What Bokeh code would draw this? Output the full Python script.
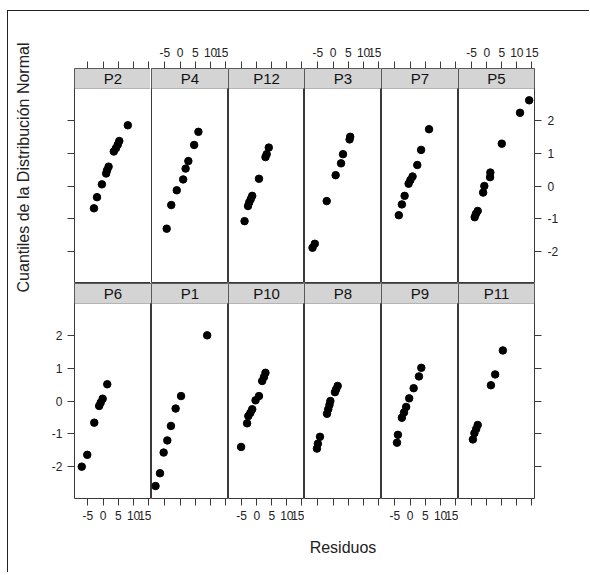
import math
from bokeh.plotting import figure
from bokeh.layouts import gridplot, row
from bokeh.models import Range1d, LinearAxis, FixedTicker, BoxAnnotation, Label
from bokeh.embed import file_html
from bokeh.resources import INLINE

# ---- data ----
top_row = ["P2", "P4", "P12", "P3", "P7", "P5"]
bottom_row = ["P6", "P1", "P10", "P8", "P9", "P11"]

resid_P2 = [-3.0, -2.0, -0.4, 1.0, 1.3, 1.8, 3.5, 4.2, 4.8, 5.3, 8.1]
qn_P2 = [-0.68, -0.34, 0.05, 0.38, 0.48, 0.59, 1.05, 1.15, 1.26, 1.37, 1.85]
resid_P4 = [-4.4, -2.9, -1.1, 1.0, 1.8, 2.7, 4.6, 6.0]
qn_P4 = [-1.30, -0.58, -0.13, 0.20, 0.53, 0.76, 1.25, 1.65]
resid_P12 = [-4.05, -2.9, -2.5, -2.0, -1.5, 0.74, 2.9, 3.3, 4.0]
qn_P12 = [-1.07, -0.61, -0.50, -0.40, -0.30, 0.22, 0.88, 0.97, 1.17]
resid_P3 = [-6.75, -6.0, -2.1, 0.83, 2.6, 3.24, 5.4, 5.6]
qn_P3 = [-1.88, -1.76, -0.46, 0.33, 0.69, 0.97, 1.42, 1.50]
resid_P7 = [-3.7, -2.7, -1.8, -0.5, 0.1, 0.8, 2.35, 3.6, 6.2]
qn_P7 = [-0.89, -0.56, -0.30, 0.07, 0.18, 0.29, 0.64, 1.10, 1.73]
resid_P5 = [-4.0, -3.6, -3.0, -1.2, -0.8, 1.1, 1.2, 5.0, 11.05, 14.1]
qn_P5 = [-0.95, -0.85, -0.76, -0.20, 0.0, 0.27, 0.41, 1.29, 2.23, 2.61]
resid_P6 = [-7.0, -5.2, -2.9, -1.3, -0.8, -0.15, 1.36]
qn_P6 = [-2.0, -1.64, -0.66, -0.15, -0.05, 0.07, 0.51]
resid_P1 = [-8.06, -6.6, -5.4, -4.2, -3.0, -1.47, 0.31, 8.87]
qn_P1 = [-2.59, -2.20, -1.57, -1.20, -0.76, -0.23, 0.15, 2.0]
resid_P10 = [-5.2, -3.2, -2.8, -2.1, -1.5, -0.4, 0.74, 1.8, 2.4, 2.9]
qn_P10 = [-1.40, -0.68, -0.46, -0.36, -0.25, 0.02, 0.15, 0.61, 0.73, 0.86]
resid_P8 = [-5.3, -5.0, -4.3, -2.0, -1.6, -1.2, -0.9, 0.6, 1.0, 1.5]
qn_P8 = [-1.45, -1.30, -1.09, -0.39, -0.25, -0.12, 0.0, 0.27, 0.36, 0.46]
resid_P9 = [-4.3, -4.0, -2.7, -2.0, -1.3, -0.3, 1.16, 2.9, 3.67]
qn_P9 = [-1.27, -1.03, -0.51, -0.35, -0.18, 0.08, 0.39, 0.75, 1.01]
resid_P11 = [-4.6, -4.1, -3.5, -3.0, 1.39, 2.8, 5.35]
qn_P11 = [-1.17, -0.98, -0.85, -0.73, 0.48, 0.81, 1.54]

x_ticks = [-5, 0, 5, 10, 15]
y_ticks = [-2, -1, 0, 1, 2]
x_label = "Residuos"
y_label = "Cuantiles de la Distribución Normal"

panel_data = {
    "P1": (resid_P1, qn_P1), "P2": (resid_P2, qn_P2), "P3": (resid_P3, qn_P3),
    "P4": (resid_P4, qn_P4), "P5": (resid_P5, qn_P5), "P6": (resid_P6, qn_P6),
    "P7": (resid_P7, qn_P7), "P8": (resid_P8, qn_P8), "P9": (resid_P9, qn_P9),
    "P10": (resid_P10, qn_P10), "P11": (resid_P11, qn_P11), "P12": (resid_P12, qn_P12),
}

# ---- style / layout ----
FONT = "Liberation Sans"
X_LIM = (-9.38, 15.86)
Y_LIM = (-2.97, 2.97)
PANEL_H = 195
STRIP_H = 20
strip_units = STRIP_H * (Y_LIM[1] - Y_LIM[0]) / PANEL_H
frame_widths = [77, 77, 76, 77, 77, 76]
LINE = "#3a3a3a"
BORDER_TOP, BORDER_BOTTOM = 57, 74
BORDER_LEFT, BORDER_RIGHT = 25, 55
LABEL_W = 40
TOTAL_H = BORDER_TOP + 2 * (PANEL_H + STRIP_H) + BORDER_BOTTOM
HYPHEN = {-5: "-5", -2: "-2", -1: "-1"}


def make_axis(ticks, show_labels, standoff=5):
    ax = LinearAxis(
        ticker=FixedTicker(ticks=ticks),
        axis_line_color=None,
        major_tick_line_color=LINE,
        major_tick_out=7,
        major_tick_in=0,
        minor_tick_line_color=None,
        major_label_text_font=FONT,
        major_label_text_font_size="12px",
        major_label_text_color="#222222",
        major_label_standoff=standoff,
        major_label_overrides=HYPHEN,
        axis_label_text_font=FONT,
        axis_label_text_font_size="16px",
        axis_label_text_font_style="normal",
        axis_label_text_color="#222222",
    )
    if not show_labels:
        ax.major_label_text_color = None
    return ax


rows = []
for r, names in enumerate([top_row, bottom_row]):
    prow = []
    for c, name in enumerate(names):
        p = figure(
            frame_width=frame_widths[c], frame_height=PANEL_H + STRIP_H,
            x_range=Range1d(*X_LIM),
            y_range=Range1d(Y_LIM[0], Y_LIM[1] + strip_units),
            output_backend="svg", toolbar_location=None,
            x_axis_location=None, y_axis_location=None,
            min_border_left=BORDER_LEFT if c == 0 else 0,
            min_border_right=BORDER_RIGHT if c == 5 else 0,
            min_border_top=BORDER_TOP if r == 0 else 0,
            min_border_bottom=BORDER_BOTTOM if r == 1 else 0,
            background_fill_color="white", border_fill_color="white",
        )
        p.grid.grid_line_color = None
        p.outline_line_color = LINE
        p.outline_line_width = 1

        if r == 0:
            p.add_layout(make_axis(x_ticks, c % 2 == 1), "above")
        else:
            bax = make_axis(x_ticks, c % 2 == 0)
            if c == 3:
                bax.axis_label = x_label
                bax.axis_label_standoff = 33
            p.add_layout(bax, "below")
        if c == 0:
            p.add_layout(make_axis(y_ticks, r == 1), "left")
        if c == 5:
            p.add_layout(make_axis(y_ticks, r == 0, standoff=6), "right")

        p.add_layout(BoxAnnotation(bottom=Y_LIM[1], fill_color="#d4d4d4", fill_alpha=1,
                                   line_color=LINE, line_width=1))
        p.add_layout(Label(x=(X_LIM[0] + X_LIM[1]) / 2, y=Y_LIM[1] + strip_units / 2,
                           text=name, text_align="center", text_baseline="middle",
                           text_font=FONT, text_font_size="15px", text_color="#111111"))

        xs, ys = panel_data[name]
        p.scatter(xs, ys, size=7.5, color="black", line_color="black")
        prow.append(p)
    rows.append(prow)

grid = gridplot(rows, toolbar_location=None)

# narrow figure carrying the shared y-axis title
lab = figure(width=LABEL_W, height=TOTAL_H, x_range=Range1d(0, LABEL_W),
             y_range=Range1d(0, TOTAL_H), output_backend="svg", toolbar_location=None,
             x_axis_location=None, y_axis_location=None, min_border=0,
             outline_line_color=None, background_fill_color="white",
             border_fill_color="white")
lab.grid.grid_line_color = None
lab.add_layout(Label(x=15, y=TOTAL_H - 156, text=y_label, angle=math.pi / 2,
                     text_align="center", text_baseline="middle", text_font=FONT,
                     text_font_size="16px", text_color="#222222"))

page = row(lab, grid)
page.styles = {"margin-top": "10px", "margin-left": "7px",
               "border-top": "1px solid #222", "border-left": "1px solid #222"}

open("out.html", "w").write(file_html(page, INLINE))
